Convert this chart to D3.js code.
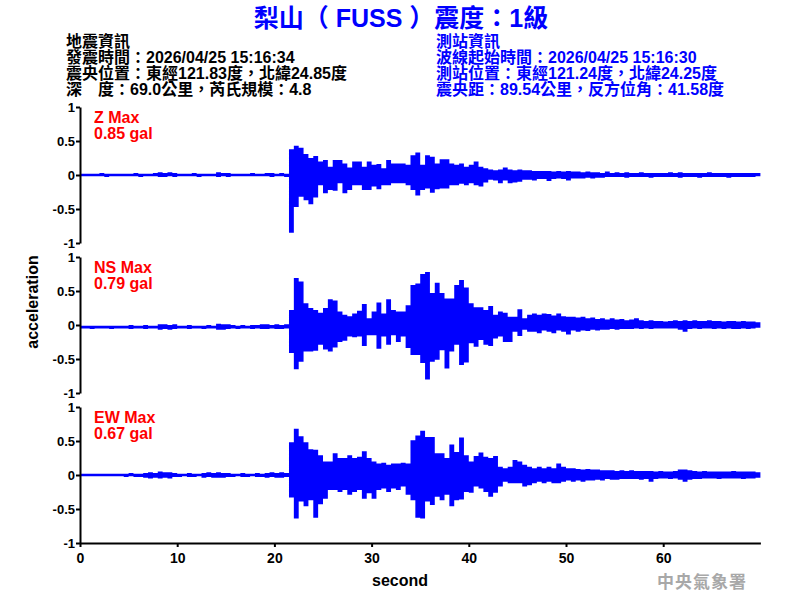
<!DOCTYPE html>
<html>
<head>
<meta charset="utf-8">
<script src="https://cdn.jsdelivr.net/npm/d3@7"></script>
<style>
body { margin: 0; background: #fff; }
text { font-family: "Liberation Sans", Arial, "Noto Sans CJK TC", sans-serif; font-weight: bold; }
</style>
</head>
<body>
<svg id="chart" width="800" height="600"></svg>
<script>

//---------------- data (0.5 s bins, peak up / peak down) -------------

// bin start times, seconds
let binStart = d3.range(0, 70, 0.5);

let zUp = [
  0.02,0.02,0.02,0.02,0.03,0.02,0.02,0.02,0.02, 0.02,0.02,0.03,0.02,0.02,0.02,0.03, 0.04,0.03,0.04,0.03,
  0.02,0.02,0.02,0.03,0.02,0.02,0.02,0.02, 0.04,0.03,0.03, 0.02,0.02,0.02,0.02,0.03,0.02,0.02, 0.03,0.03,0.02,0.03,0.02,
  0.38,0.43,0.40,0.31,0.25,0.28,0.20,0.22,0.12,0.22, 0.22,0.17,0.11,0.20,0.20,0.12,0.20,0.15,0.16,0.10,
  0.22,0.17,0.17,0.17,0.15,0.29,0.33,0.15,0.29,0.27, 0.17,0.23,0.23,0.17,0.15,0.17,0.12,0.15,0.20,0.12,
  0.10,0.08,0.07,0.08,0.11,0.08,0.07,0.08,0.07,
  0.07,0.06,0.06,0.06,0.06,0.05,0.06,0.05,0.06,0.05, 0.05,0.04,0.05,0.04,0.04,0.03,0.05,0.03,0.04,0.03,
  0.04,0.03,0.03,0.04,0.03,0.03,0.03,0.03,0.03,0.04, 0.03,0.04,0.03,0.03,0.03,0.03,0.03,0.04,0.03,0.03,
  0.03,0.03,0.03,0.03,0.03,0.03,0.03,0.03
];
let zLo = [
  -0.02,-0.02,-0.02,-0.02,-0.02,-0.03,-0.02,-0.02,-0.02, -0.02,-0.02,-0.02,-0.03,-0.02,-0.02,-0.02, -0.03,-0.03,-0.02,-0.03,
  -0.02,-0.02,-0.02,-0.02,-0.03,-0.02,-0.02,-0.02, -0.03,-0.02,-0.03, -0.02,-0.02,-0.02,-0.02,-0.02,-0.02,-0.02, -0.02,-0.03,-0.02,-0.02,-0.03,
  -0.85,-0.47,-0.32,-0.37,-0.43,-0.33,-0.15,-0.27,-0.22,-0.23, -0.12,-0.27,-0.22,-0.15,-0.15,-0.22,-0.22,-0.17,-0.21,-0.15,
  -0.15,-0.12,-0.12,-0.12,-0.15,-0.22,-0.30,-0.22,-0.20,-0.26, -0.21,-0.20,-0.20,-0.15,-0.15,-0.13,-0.15,-0.12,-0.15,-0.17,
  -0.11,-0.07,-0.08,-0.12,-0.08,-0.12,-0.11,-0.10,-0.07,
  -0.07,-0.08,-0.06,-0.06,-0.09,-0.06,-0.05,-0.06,-0.08,-0.05, -0.05,-0.05,-0.04,-0.05,-0.04,-0.04,-0.03,-0.03,-0.03,-0.03,
  -0.04,-0.03,-0.03,-0.03,-0.03,-0.04,-0.03,-0.03,-0.03,-0.03, -0.03,-0.04,-0.03,-0.03,-0.03,-0.04,-0.03,-0.03,-0.03,-0.03,
  -0.03,-0.04,-0.03,-0.03,-0.03,-0.03,-0.03,-0.02
];

let nsUp = [
  -0.01,-0.01,-0.01,-0.01,-0.01,-0.01,-0.01,-0.01,-0.01, -0.01,0.00,-0.01,-0.01,0.00,-0.01,-0.01, 0.01,0.01,0.00,0.01,
  -0.01,-0.01,0.00,-0.01,-0.01,-0.01,0.00,-0.01, 0.02,0.01,0.01, 0.00,-0.01,0.00,-0.01,0.00,0.00,0.01, 0.01,0.00,0.01,0.00,0.01,
  0.22,0.69,0.64,0.32,0.25,0.22,0.18,0.25,0.38,0.36, 0.20,0.15,0.13,0.17,0.21,0.31,0.10,0.20,0.33,0.17,
  0.38,0.22,0.20,0.20,0.29,0.59,0.61,0.75,0.78,0.47, 0.62,0.47,0.39,0.39,0.59,0.66,0.55,0.32,0.26,0.26,
  0.22,0.28,0.15,0.20,0.18,0.12,0.12,0.23,0.10,
  0.15,0.17,0.15,0.17,0.16,0.14,0.17,0.13,0.12,0.12, 0.11,0.12,0.10,0.11,0.09,0.10,0.08,0.10,0.08,0.09,
  0.07,0.08,0.10,0.07,0.06,0.07,0.06,0.06,0.05,0.06, 0.07,0.06,0.07,0.06,0.07,0.06,0.06,0.07,0.06,0.06,
  0.05,0.06,0.06,0.05,0.06,0.05,0.05,0.04
];
let nsLo = [
  -0.05,-0.05,-0.06,-0.05,-0.05,-0.05,-0.06,-0.05,-0.05, -0.05,-0.06,-0.05,-0.05,-0.06,-0.05,-0.05, -0.07,-0.06,-0.07,-0.06,
  -0.05,-0.05,-0.06,-0.05,-0.05,-0.06,-0.05,-0.05, -0.07,-0.07,-0.06, -0.05,-0.06,-0.05,-0.05,-0.06,-0.05,-0.06, -0.06,-0.05,-0.06,-0.06,-0.05,
  -0.41,-0.65,-0.54,-0.39,-0.39,-0.38,-0.29,-0.36,-0.39,-0.33, -0.25,-0.23,-0.17,-0.18,-0.17,-0.31,-0.15,-0.15,-0.35,-0.17,
  -0.29,-0.15,-0.25,-0.17,-0.34,-0.44,-0.44,-0.56,-0.80,-0.54, -0.51,-0.37,-0.64,-0.39,-0.29,-0.59,-0.55,-0.27,-0.32,-0.22,
  -0.29,-0.31,-0.20,-0.17,-0.25,-0.25,-0.10,-0.16,-0.07,
  -0.10,-0.10,-0.12,-0.08,-0.10,-0.12,-0.08,-0.10,-0.14,-0.08, -0.10,-0.08,-0.09,-0.07,-0.08,-0.07,-0.07,-0.06,-0.07,-0.06,
  -0.06,-0.06,-0.05,-0.06,-0.05,-0.06,-0.05,-0.05,-0.05,-0.05, -0.05,-0.07,-0.10,-0.06,-0.05,-0.06,-0.05,-0.05,-0.06,-0.05,
  -0.06,-0.05,-0.06,-0.06,-0.05,-0.06,-0.05,-0.04
];

let ewUp = [
  0.02,0.02,0.02,0.02,0.02,0.02,0.02,0.02,0.02, 0.02,0.03,0.02,0.02, 0.03,0.04,0.03,0.05,0.04,0.04,0.03,
  0.02,0.02,0.03,0.02,0.02, 0.03,0.04,0.03,0.04,0.03,0.03, 0.02,0.02,0.03,0.02,0.02,0.03,0.02, 0.03,0.04,0.03,0.04,0.03,
  0.48,0.68,0.57,0.48,0.38,0.37,0.29,0.20,0.20,0.32, 0.25,0.25,0.29,0.25,0.27,0.35,0.25,0.20,0.17,0.18,
  0.15,0.17,0.17,0.18,0.17,0.51,0.58,0.65,0.56,0.56, 0.32,0.32,0.25,0.45,0.34,0.55,0.29,0.20,0.28,0.33,
  0.27,0.25,0.28,0.12,0.10,0.12,0.22,0.20,0.15,
  0.12,0.10,0.12,0.10,0.12,0.10,0.17,0.12,0.10,0.10, 0.09,0.08,0.09,0.08,0.08,0.07,0.07,0.07,0.06,0.07,
  0.06,0.07,0.06,0.06,0.06,0.06,0.05,0.06,0.05,0.05, 0.06,0.08,0.08,0.07,0.06,0.05,0.06,0.05,0.05,0.05,
  0.05,0.05,0.06,0.05,0.05,0.05,0.05,0.04
];
let ewLo = [
  -0.02,-0.02,-0.02,-0.02,-0.02,-0.02,-0.02,-0.02,-0.02, -0.03,-0.02,-0.03,-0.03, -0.04,-0.05,-0.04,-0.05,-0.04,-0.05,-0.03,
  -0.03,-0.02,-0.03,-0.03,-0.02, -0.04,-0.03,-0.04,-0.04,-0.04,-0.03, -0.03,-0.02,-0.03,-0.03,-0.02,-0.03,-0.03, -0.04,-0.03,-0.04,-0.04,-0.03,
  -0.33,-0.64,-0.39,-0.46,-0.37,-0.63,-0.43,-0.35,-0.22,-0.22, -0.25,-0.22,-0.29,-0.25,-0.22,-0.35,-0.27,-0.35,-0.22,-0.20,
  -0.25,-0.20,-0.22,-0.17,-0.29,-0.37,-0.63,-0.64,-0.39,-0.44, -0.32,-0.37,-0.29,-0.46,-0.37,-0.36,-0.25,-0.26,-0.17,-0.20,
  -0.25,-0.32,-0.26,-0.17,-0.10,-0.12,-0.12,-0.12,-0.17,
  -0.15,-0.12,-0.10,-0.12,-0.10,-0.12,-0.12,-0.10,-0.08,-0.10, -0.08,-0.10,-0.08,-0.08,-0.07,-0.08,-0.06,-0.07,-0.07,-0.06,
  -0.06,-0.06,-0.06,-0.07,-0.06,-0.10,-0.06,-0.05,-0.05,-0.06, -0.05,-0.07,-0.10,-0.07,-0.06,-0.06,-0.05,-0.05,-0.05,-0.06,
  -0.05,-0.05,-0.05,-0.05,-0.06,-0.05,-0.05,-0.04
];

let components = ["Z", "NS", "EW"];
let maxGal = ["0.85", "0.79", "0.67"];
let yTicks = [-1, -0.5, 0, 0.5, 1];
let xTicks = [0, 10, 20, 30, 40, 50, 60];

let title = "梨山（ FUSS ）震度：1級";
let quakeInfo = ["地震資訊", "發震時間：2026/04/25 15:16:34", "震央位置：東經121.83度，北緯24.85度", "深　度：69.0公里，芮氏規模：4.8"];
let stationInfo = ["測站資訊", "波線起始時間：2026/04/25 15:16:30", "測站位置：東經121.24度，北緯24.25度", "震央距：89.54公里，反方位角：41.58度"];

//---------------- layout -------------------------------------

let svg = d3.select("#chart");
let margin = {left: 80, right: 40};
let panelTop = [107, 257, 407];
let panelH = 136;

let x = d3.scaleLinear().domain([0, 70]).range([margin.left, 760.4]);

let traces = [[zUp, zLo], [nsUp, nsLo], [ewUp, ewLo]];

// title
svg.append("text")
  .attr("x", 401).attr("y", 27)
  .attr("text-anchor", "middle")
  .style("font-size", "25px")
  .attr("fill", "#0000ff")
  .text(title);

svg.selectAll(".qinfo").data(quakeInfo).enter().append("text")
  .attr("class", "qinfo")
  .attr("x", 66).attr("y", (d, i) => 47 + i * 16)
  .style("font-size", "16px")
  .attr("fill", "#000")
  .text(d => d);

svg.selectAll(".sinfo").data(stationInfo).enter().append("text")
  .attr("class", "sinfo")
  .attr("x", 436).attr("y", (d, i) => 47 + i * 16)
  .style("font-size", "16px")
  .attr("fill", "#0000ff")
  .text(d => d);

components.forEach(function(comp, k) {
  let top = panelTop[k];
  let y = d3.scaleLinear().domain([-1, 1]).range([top + panelH, top]);
  let up = traces[k][0], lo = traces[k][1];

  let bins = binStart.map((t, i) => ({t: t, up: up[i], lo: lo[i]}));
  // close the last bin at the end of the record
  let last = bins[bins.length - 1];
  bins.push({t: 70, up: last.up, lo: last.lo});

  let area = d3.area()
    .curve(d3.curveStepAfter)
    .x(d => x(d.t))
    .y0(d => y(d.lo))
    .y1(d => y(d.up));

  svg.append("path")
    .datum(bins)
    .attr("d", area)
    .attr("fill", "#0000ff")
    .attr("stroke", "none");

  let ax = svg.append("g")
    .attr("transform", "translate(" + margin.left + ",0)")
    .call(d3.axisLeft(y).tickValues(yTicks).tickSize(4).tickSizeOuter(0).tickPadding(1).tickFormat(d => String(d)));
  ax.selectAll("path, line").attr("stroke", "#000").attr("stroke-width", 2);
  ax.selectAll("text").attr("fill", "#000").style("font-size", "13px");

  svg.append("text")
    .attr("x", 94).attr("y", top + 16)
    .style("font-size", "16px")
    .attr("fill", "#ff0000")
    .text(comp + " Max");
  svg.append("text")
    .attr("x", 94).attr("y", top + 32)
    .style("font-size", "16px")
    .attr("fill", "#ff0000")
    .text(maxGal[k] + " gal");
});

let xAxis = svg.append("g")
  .attr("transform", "translate(0," + (panelTop[2] + panelH) + ")")
  .call(d3.axisBottom(x).tickValues(xTicks).tickSize(4).tickSizeOuter(0).tickPadding(6));
xAxis.selectAll("path, line").attr("stroke", "#000").attr("stroke-width", 2);
xAxis.selectAll("text").attr("fill", "#000").style("font-size", "14px");

svg.append("text")
  .attr("x", 400).attr("y", 586)
  .attr("text-anchor", "middle")
  .style("font-size", "16px")
  .text("second");

svg.append("text")
  .attr("transform", "translate(38,302) rotate(-90)")
  .attr("text-anchor", "middle")
  .style("font-size", "16px")
  .text("acceleration");

svg.append("text")
  .attr("x", 747).attr("y", 588)
  .attr("text-anchor", "end")
  .style("font-size", "17px")
  .style("letter-spacing", "1px")
  .attr("fill", "#a8a8a8")
  .text("中央氣象署");

</script>
</body>
</html>
